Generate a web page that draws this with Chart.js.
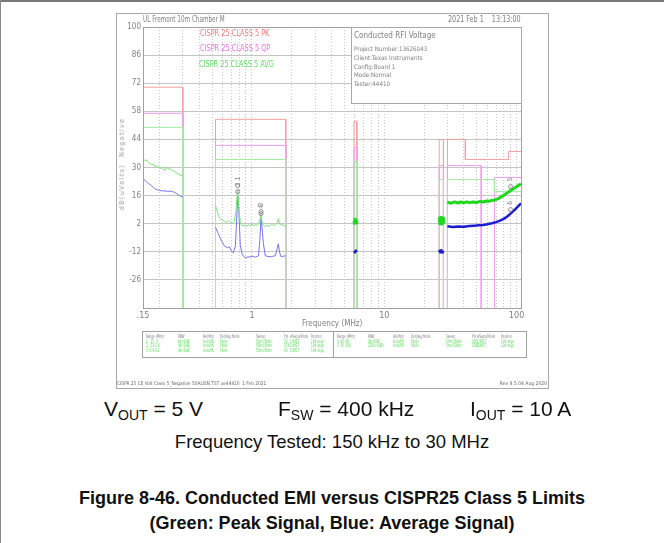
<!DOCTYPE html>
<html>
<head>
<meta charset="utf-8">
<script src="https://cdn.jsdelivr.net/npm/chart.js@4.4.1/dist/chart.umd.min.js"></script>
<style>
  body { margin: 0; width: 664px; height: 543px; overflow: hidden; background: #fff; font-family: "Liberation Sans", Arial, sans-serif; }
  .abs { position: absolute; white-space: pre; }
  .plotfont { font-family: "Liberation Sans Narrow", "DejaVu Sans Condensed", "DejaVu Sans", sans-serif; color: #808080; }
  .sq { transform-origin: left center; }
  #topline { position: absolute; left: 0; top: 0; width: 664px; height: 2px; background: #7a7a7a; }
  #leftline { position: absolute; left: 0; top: 0; width: 1px; height: 543px; background: #8a8a8a; }
  #plot { position: absolute; left: 116px; top: 13px; width: 431px; height: 374px; border: 1px solid #a8a8a8; }
  #info { position: absolute; left: 351px; top: 27px; width: 169px; height: 75px; border: 1px solid #a8a8a8; background: #fff; }
  #table { position: absolute; left: 142px; top: 331px; width: 383px; height: 25px; border: 1px solid #a0a0a0; }
  #tdiv { position: absolute; left: 190px; top: 0; width: 1px; height: 25px; background: #a0a0a0; }
  .tx { position: absolute; font-size: 5px; line-height: 4.5px; white-space: pre; transform: scaleX(0.62); transform-origin: left top; }
  .tx span { color: #4fdc4f; }
  #ytitle { position: absolute; left: 122px; top: 164px; font-size: 7px; letter-spacing: 1.4px; color: #999;
            transform: translate(-50%, -50%) rotate(-90deg); white-space: pre; }
  .cap { position: absolute; font-size: 18.5px; color: #111; white-space: nowrap; }
  .big { font-size: 21px; }
  .cap sub { font-size: 14px; vertical-align: -4px; }
  .bold { font-weight: bold; font-size: 18px; }
</style>
</head>
<body>
<div id="topline"></div>
<div id="leftline"></div>
<div id="plot"><canvas id="chart" width="431" height="374"></canvas></div>

<div class="abs plotfont sq" style="left:143px; top:15px; font-size:8px; transform:scaleX(0.79);">UL Fremont 10m Chamber M</div>
<div class="abs plotfont" style="right:143px; top:15px; font-size:8px; transform:scaleX(0.89); transform-origin:right center;">2021 Feb 1    13:13:00</div>

<div class="abs plotfont sq" style="left:200px; top:29px; font-size:8px; color:#f07878; transform:scaleX(0.91);">CISPR 25 CLASS 5 PK</div>
<div class="abs plotfont sq" style="left:200px; top:44px; font-size:8px; color:#ee6cee; transform:scaleX(0.91);">CISPR 25 CLASS 5 QP</div>
<div class="abs plotfont sq" style="left:199px; top:60px; font-size:8px; color:#5ede5e; transform:scaleX(0.91);">CISPR 25 CLASS 5 AVG</div>

<div id="info" class="plotfont">
  <div class="abs" style="left:2px; top:3px; font-size:8px;">Conducted RFI Voltage</div>
  <div class="abs" style="left:2px; top:17px; font-size:6.2px; line-height:8.8px;">Project Number:13626043<br>Client:Texas Instruments<br>Config:Board 1<br>Mode:Normal<br>Tester:44410</div>
</div>

<div id="ytitle" class="plotfont">dB(uVolts)  Negative</div>
<div class="abs plotfont" style="left:302px; top:319px; width:60px; text-align:center; font-size:8px;">Frequency (MHz)</div>

<div id="table" class="plotfont">
  <div id="tdiv"></div>
  <div class="tx" style="left:3px; top:2px;">Range (MHz)<br><span>1: .15-.3<br>2: .53-1.8<br>3: 5.9-6.2</span></div>
  <div class="tx" style="left:35px; top:2px;">RBW<br><span>9k(-6dB)<br>9k(-6dB)<br>9k(-6dB)</span></div>
  <div class="tx" style="left:60px; top:2px;">Ref/Attn<br><span>Auto/PK<br>Auto/PK<br>Auto/PK</span></div>
  <div class="tx" style="left:77px; top:2px;">Det/Avg Mode<br><span>Pk/Av<br>Pk/Av<br>Pk/Av</span></div>
  <div class="tx" style="left:113px; top:2px;">Sweep<br><span>50ms/5kHz<br>50ms/5kHz<br>50ms/5kHz</span></div>
  <div class="tx" style="left:141px; top:2px;">Pts<br><span>30<br>274<br>60</span></div>
  <div class="tx" style="left:147px; top:2px;">#Swps/Mode<br><span>1/INST<br>1/INST<br>1/INST</span></div>
  <div class="tx" style="left:168px; top:2px;">Position<br><span>194 degs<br>194 degs<br>194 degs</span></div>
  <div class="tx" style="left:194px; top:2px;">Range (MHz)<br><span>4: 26-28<br>5: 30-108</span></div>
  <div class="tx" style="left:225px; top:2px;">RBW<br><span>9k(-6dB)<br>120k(-6dB)</span></div>
  <div class="tx" style="left:250px; top:2px;">Ref/Attn<br><span>Auto/PK<br>Auto/PK</span></div>
  <div class="tx" style="left:268px; top:2px;">Det/Avg Mode<br><span>Pk/Av<br>Pk/Av</span></div>
  <div class="tx" style="left:303px; top:2px;">Sweep<br><span>50ms/5kHz<br>5ms/50kHz</span></div>
  <div class="tx" style="left:329px; top:2px;">Pts<br><span>400<br>1560</span></div>
  <div class="tx" style="left:334px; top:2px;">#Swps/Mode<br><span>1/INST<br>1/INST</span></div>
  <div class="tx" style="left:358px; top:2px;">Position<br><span>194 degs<br>194 degs</span></div>
</div>

<div class="abs plotfont sq" style="left:117px; top:380px; font-size:5px; color:#666; transform:scaleX(0.95);">CISPR 25 CE Volt Class 5_Negative 50ALISN.TST ue44410  1 Feb 2021</div>
<div class="abs plotfont" style="right:117px; top:380px; font-size:5px; color:#666;">Rev 9.5.04 Aug 2020</div>

<div class="cap big" style="left:104px; top:397px;">V<sub>OUT</sub> = 5 V</div>
<div class="cap big" style="left:278px; top:397px;">F<sub>SW</sub> = 400 kHz</div>
<div class="cap big" style="left:470px; top:397px;">I<sub>OUT</sub> = 10 A</div>
<div class="cap" style="left:0; width:664px; text-align:center; top:431px;">Frequency Tested: 150 kHz to 30 MHz</div>
<div class="cap bold" style="left:0; width:664px; text-align:center; top:488px;">Figure 8-46. Conducted EMI versus CISPR25 Class 5 Limits</div>
<div class="cap bold" style="left:0; width:664px; text-align:center; top:513px;">(Green: Peak Signal, Blue: Average Signal)</div>

<script>
// Axis setup
const xMin = 0.15, xMax = 108;
const yTicks = [-40, -26, -12, 2, 16, 30, 44, 58, 72, 86, 100];
const xGridFreqs = [0.15, 0.2, 0.3, 0.4, 0.5, 0.6, 0.7, 0.8, 0.9, 1, 2, 3, 4, 5, 6, 7, 8, 9, 10, 20, 30, 40, 50, 60, 70, 80, 90, 100];
const xLabels = { 0.15: ".15", 1: "1", 10: "10", 100: "100" };

// CISPR 25 class 5 limit lines (MHz / dBuV), null = pen up
const pkFreq  = [0.15, 0.3, 0.3, 0.3, 0.53, 0.53, 1.8, 1.8, 1.8, 5.9, 5.9, 6.2, 6.2, 6.2, 26, 26, 28, 28, 28, 30, 30, 41, 41, 87, 87, 108];
const pkLevel = [70, 70, -40, null, -40, 54, 54, -40, null, -40, 53, 53, -40, null, -40, 44, 44, -40, null, -40, 44, 44, 34, 34, 38, 38];
const qpFreq  = [0.15, 0.3, 0.3, 0.3, 0.53, 0.53, 1.8, 1.8, 1.8, 5.9, 5.9, 6.2, 6.2, 6.2, 26, 26, 28, 28, 28, 30, 30, 54, 54, 54, 68, 68, 108];
const qpLevel = [57, 57, -40, null, -40, 41, 41, -40, null, -40, 40, 40, -40, null, -40, 31, 31, -40, null, -40, 31, 31, -40, null, -40, 25, 25];
const avFreq  = [0.15, 0.3, 0.3, 0.3, 0.53, 0.53, 1.8, 1.8, 1.8, 5.9, 5.9, 6.2, 6.2, 6.2, 26, 26, 28, 28, 28, 30, 30, 68, 68, 108];
const avLevel = [50, 50, -40, null, -40, 34, 34, -40, null, -40, 33, 33, -40, null, -40, 24, 24, -40, null, -40, 24, 24, 18, 18];

// Peak signal (green), per scan range
const peak1F = [0.15, 0.155, 0.16, 0.165, 0.17, 0.175, 0.18, 0.185, 0.19, 0.195, 0.2, 0.205, 0.21, 0.215, 0.22, 0.225, 0.23, 0.235, 0.24, 0.245, 0.25, 0.26, 0.27, 0.28, 0.29, 0.3];
const peak1L = [34.5, 33.4, 33.8, 32.4, 32.1, 31.3, 31.8, 30.4, 30.9, 29.9, 30.3, 29.4, 30.1, 28.9, 28.7, 29.6, 29.9, 29.1, 29.5, 28.7, 28.4, 28.1, 27.2, 26.6, 26.1, 25.8];
const peak2F = [0.53, 0.545, 0.557, 0.575, 0.597, 0.618, 0.639, 0.66, 0.685, 0.71, 0.735, 0.755, 0.768, 0.78, 0.795, 0.816, 0.845, 0.87, 0.9, 0.94, 0.97, 1.0, 1.03, 1.06, 1.09, 1.12, 1.146, 1.17, 1.2, 1.23, 1.26, 1.3, 1.34, 1.38, 1.42, 1.46, 1.5, 1.55, 1.58, 1.62, 1.66, 1.7, 1.75, 1.8];
const peak2L = [11, 8.5, 6, 4.5, 3.8, 3.2, 2.6, 3.5, 2.8, 2.4, 3.2, 8, 14, 19, 10, 3, 0.8, 1.5, 0.6, 1.4, 1.0, 1.8, 0.9, 1.6, 1.1, 2, 4, 6.5, 1.8, 0.9, 0.5, 1.3, 0.7, 1.2, 1.6, 0.9, 1.5, 2.2, 4.5, 1.8, 1.2, 1.6, 0.8, 1.0];
const peak3F = [5.9, 5.95, 6.0, 6.05, 6.1, 6.15, 6.2];
const peak3L = [3.5, 2.2, 4.2, 2.4, 4, 2.5, 3.4];
const peak4F = [26, 26.3, 26.6, 26.9, 27.2, 27.5, 27.8, 28];
const peak4L = [5, 2, 5.2, 1.8, 5, 2.2, 4.8, 2.5];
const peak5F = [30, 32, 34, 36, 38, 40, 42, 44, 47, 50, 53, 56, 59, 62, 65, 68, 71, 74, 77, 80, 83, 86, 89, 92, 95, 98, 101, 104, 108];
const peak5L = [12.7, 12.2, 12.9, 12.3, 12.8, 12.4, 12.9, 12.5, 12.8, 12.6, 13.1, 12.8, 13.3, 13.2, 13.6, 13.7, 14.3, 14.8, 15.5, 16.2, 16.9, 17.6, 18.3, 18.9, 19.5, 20.1, 20.7, 21.2, 21.8];

// Average signal (blue)
const avg1F = [0.15, 0.155, 0.16, 0.165, 0.17, 0.175, 0.18, 0.185, 0.19, 0.2, 0.21, 0.22, 0.23, 0.24, 0.25, 0.26, 0.27, 0.28, 0.29, 0.3];
const avg1L = [24.5, 23.6, 22.8, 22, 21.5, 20.8, 20, 19.4, 19, 18.6, 18.3, 18.4, 18, 18.3, 18, 17.6, 17, 16.2, 15.7, 15.3];
const avg2F = [0.53, 0.557, 0.587, 0.618, 0.651, 0.674, 0.698, 0.723, 0.749, 0.768, 0.78, 0.795, 0.816, 0.845, 0.89, 0.93, 0.97, 1.01, 1.06, 1.12, 1.146, 1.17, 1.2, 1.22, 1.26, 1.32, 1.38, 1.44, 1.5, 1.55, 1.58, 1.62, 1.66, 1.72, 1.8];
const avg2L = [0.2, -3, -6.5, -9, -10, -9.5, -11.5, -12.5, -9, 6, 16, 8.5, -9, -13.5, -15, -14.6, -14.5, -14.2, -14.7, -14, -6.5, 5, -2.5, -8, -14, -14.3, -14.5, -14.2, -14, -10.5, -8, -12.5, -14.5, -14.2, -14];
const avg3F = [5.9, 6.0, 6.1, 6.2];
const avg3L = [-11.6, -12.3, -11.4, -12.1];
const avg4F = [26, 26.5, 27, 27.5, 28];
const avg4L = [-11, -12.3, -11.2, -12.4, -11.5];
const avg5F = [30, 33, 36, 40, 44, 48, 52, 56, 60, 65, 70, 75, 80, 85, 90, 95, 100, 104, 108];
const avg5L = [0.7, 0.4, 0.6, 0.5, 0.8, 1.0, 1.2, 1.4, 1.7, 2.2, 2.8, 3.5, 4.4, 5.6, 7.0, 8.4, 9.9, 11.0, 12.2];

// Marker readouts
const markerFreq  = [0.78, 0.78, 1.17, 1.17, 90, 90];
const markerLevel = [19, 16, 6, 5, 18.5, 7];
const markerLabel = ["1", "2", "3", "4", "5", "6"];

const toPoints = (freqs, levels) => freqs.map((f, i) => ({ x: f, y: levels[i] }));

// join scan ranges with a break between them
const joinBands = (bands) => {
  let pts = [];
  bands.forEach(([f, l], i) => {
    if (i > 0) pts.push({ x: f[0], y: null });
    pts = pts.concat(toPoints(f, l));
  });
  return pts;
};

const peakPts = joinBands([[peak1F, peak1L], [peak2F, peak2L], [peak3F, peak3L], [peak4F, peak4L], [peak5F, peak5L]]);
const avgPts = joinBands([[avg1F, avg1L], [avg2F, avg2L], [avg3F, avg3L], [avg4F, avg4L], [avg5F, avg5L]]);

const highBand = (c) => c.p0.parsed.x >= 5;

// plot frame + marker symbols
const framePlugin = {
  id: "frame",
  afterDatasetsDraw(chart) {
    const { ctx, chartArea: a, scales: { x, y } } = chart;
    ctx.save();
    ctx.strokeStyle = "#a0a0a0";
    ctx.lineWidth = 1;
    ctx.strokeRect(a.left + 0.5, a.top + 0.5, a.right - a.left, a.bottom - a.top);

    ctx.strokeStyle = "#8a8a8a";
    ctx.fillStyle = "#8a8a8a";
    ctx.font = "7px 'DejaVu Sans Condensed', sans-serif";
    ctx.textAlign = "center";
    ctx.textBaseline = "middle";
    markerFreq.forEach((f, i) => {
      const px = x.getPixelForValue(f);
      const py = y.getPixelForValue(markerLevel[i]);
      ctx.beginPath();
      ctx.arc(px, py - 4, 2, 0, Math.PI * 2);
      ctx.stroke();
      ctx.save();
      ctx.translate(px, py - 11);
      ctx.rotate(-Math.PI / 2);
      ctx.fillText(markerLabel[i], 0, 0);
      ctx.restore();
    });
    ctx.restore();
  }
};

const ctx = document.getElementById("chart").getContext("2d");

new Chart(ctx, {
  type: "line",
  data: {
    datasets: [
      {
        label: "Peak",
        data: peakPts,
        borderColor: "#7ae67a",
        borderWidth: 1,
        borderJoinStyle: "round",
        segment: {
          borderColor: c => highBand(c) ? "#1ed81e" : undefined,
          borderWidth: c => highBand(c) ? 3 : undefined
        },
        order: 0
      },
      {
        label: "Average",
        data: avgPts,
        borderColor: "#7474f0",
        borderWidth: 1,
        borderJoinStyle: "round",
        segment: {
          borderColor: c => highBand(c) ? "#1c1cd0" : undefined,
          borderWidth: c => highBand(c) ? 2.5 : undefined
        },
        order: 1
      },
      { label: "AVG limit", data: toPoints(avFreq, avLevel), borderColor: "#a4eca4", borderWidth: 1, order: 2 },
      { label: "QP limit", data: toPoints(qpFreq, qpLevel), borderColor: "#f29cf2", borderWidth: 1, order: 3 },
      { label: "PK limit", data: toPoints(pkFreq, pkLevel), borderColor: "#f4a0a0", borderWidth: 1, order: 4 }
    ]
  },
  options: {
    responsive: false,
    animation: false,
    spanGaps: false,
    elements: { point: { radius: 0 }, line: { tension: 0 } },
    layout: { padding: { left: 0, top: 13, right: 27, bottom: 56 } },
    plugins: { legend: { display: false }, tooltip: { enabled: false } },
    scales: {
      x: {
        type: "logarithmic",
        min: xMin,
        max: xMax,
        afterBuildTicks: s => { s.ticks = xGridFreqs.map(v => ({ value: v })); },
        afterFit: s => { s.height = 24; },
        ticks: {
          autoSkip: false,
          maxRotation: 0,
          padding: 2,
          color: "#808080",
          font: { family: "'Liberation Sans Narrow', 'DejaVu Sans Condensed', sans-serif", size: 9 },
          callback: v => xLabels[v] || ""
        },
        grid: { color: "#c6c6c6", lineWidth: 1, drawTicks: false },
        border: { display: false, dash: [1, 2] }
      },
      y: {
        min: -40,
        max: 100,
        afterBuildTicks: s => { s.ticks = yTicks.map(v => ({ value: v })); },
        afterFit: s => { s.width = 26; },
        ticks: {
          padding: 2,
          color: "#808080",
          font: { family: "'Liberation Sans Narrow', 'DejaVu Sans Condensed', sans-serif", size: 8 },
          callback: v => (v === -40 ? "" : v)
        },
        grid: { color: "#c4c4c4", lineWidth: 1, drawTicks: false },
        border: { display: false }
      }
    }
  },
  plugins: [framePlugin]
});
</script>
</body>
</html>
